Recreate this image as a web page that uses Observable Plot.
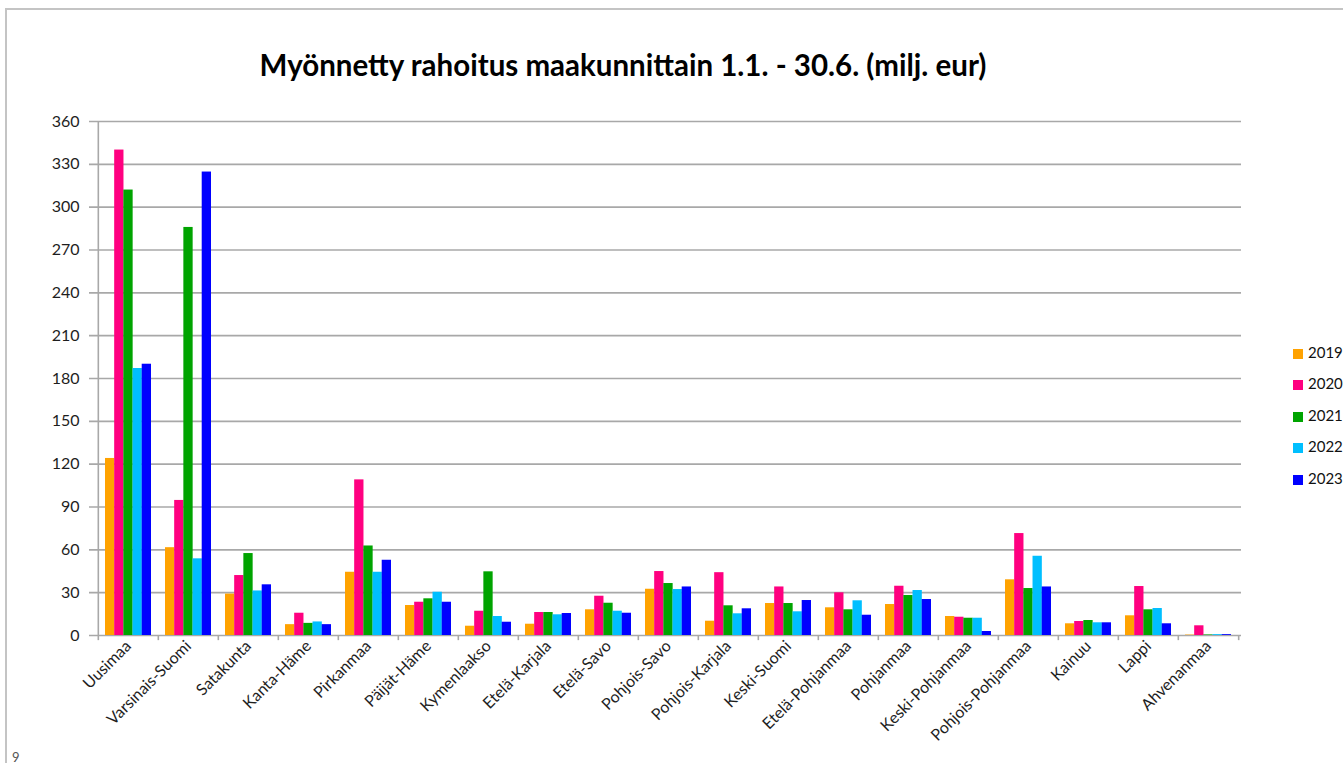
<!DOCTYPE html>
<html>
<head>
<meta charset="utf-8">
<script src="https://cdn.jsdelivr.net/npm/d3@7"></script>
<script src="https://cdn.jsdelivr.net/npm/@observablehq/plot@0.6"></script>
<style>
  html, body { margin: 0; padding: 0; background: #fff; }
  body { width: 1343px; height: 763px; overflow: hidden; position: relative; font-family: Lato, "Open Sans", sans-serif; }
  #frame { position: absolute; left: 5px; top: 8px; width: 1400px; height: 800px; border-left: 2px solid #c4c4c4; border-top: 2px solid #c4c4c4; }
  #title { position: absolute; left: 0; top: 47px; width: 1246px; text-align: center; font-weight: bold; font-size: 29.5px; color: #000; }
  #chart { position: absolute; left: 0; top: 100px; }
  #chart svg text { fill: #1e1e1e; }
  .leg { position: absolute; left: 1293px; font-size: 15px; color: #111; white-space: nowrap; }
  .leg span.sw { display: inline-block; width: 10px; height: 10px; margin-right: 5px; vertical-align: -1px; }
  #pg { position: absolute; left: 12px; top: 749px; font-size: 13px; color: #555; }
</style>
</head>
<body>
<div id="frame"></div>
<div id="title">Myönnetty rahoitus maakunnittain 1.1. - 30.6. (milj. eur)</div>
<div id="chart"></div>
<div id="legend"></div>
<div id="pg">9</div>
<script>
const regions = ["Uusimaa","Varsinais-Suomi","Satakunta","Kanta-Häme","Pirkanmaa","Päijät-Häme","Kymenlaakso","Etelä-Karjala","Etelä-Savo","Pohjois-Savo","Pohjois-Karjala","Keski-Suomi","Etelä-Pohjanmaa","Pohjanmaa","Keski-Pohjanmaa","Pohjois-Pohjanmaa","Kainuu","Lappi","Ahvenanmaa"];
const years = ["2019","2020","2021","2022","2023"];
const colors = ["#ffa200","#ff0080","#00a400","#00bfff","#0000ff"];
const v2019 = [124, 61.5, 29, 7.6, 44.3, 21, 6.5, 7.9, 18, 32.4, 10, 22.4, 19.4, 21.7, 13.3, 39, 8.2, 13.8, 0.3];
const v2020 = [340, 94.6, 42, 15.6, 109, 23.3, 17, 16.1, 27.5, 44.8, 44, 34, 29.9, 34.5, 12.8, 71.4, 9.8, 34.3, 6.8];
const v2021 = [312, 285.8, 57.4, 8.5, 62.7, 25.7, 44.6, 16.1, 22.6, 36.4, 20.8, 22.4, 18, 28, 12.1, 32.9, 10.5, 18, 0.4];
const v2022 = [187, 53.7, 31.2, 9.5, 44.3, 30.3, 13.3, 14.5, 17, 32.2, 15.2, 16.6, 24.3, 31.5, 12.1, 55.5, 8.9, 18.9, 0.6];
const v2023 = [190, 324.6, 35.5, 7.6, 52.7, 23.3, 9.3, 15.4, 15.6, 34, 18.7, 24.5, 14.2, 25.2, 2.8, 34, 8.9, 8.2, 0.6];
const yTicks = [0,30,60,90,120,150,180,210,240,270,300,330,360];

const series = [v2019, v2020, v2021, v2022, v2023];
const rows = [];
years.forEach((yr, i) => regions.forEach((r, j) => rows.push({region: r, year: yr, value: series[i][j]})));

const W = 1343, mL = 94, mR = 102, mT = 21, mB = 128, H = 663;
const pad = 0.24;
const step = (W - mL - mR) / regions.length;
const bar = step * (1 - pad) / years.length;
const grid = "#a8a8a8";

const chart = Plot.plot({
  width: W, height: H,
  marginLeft: mL, marginRight: mR, marginTop: mT, marginBottom: mB,
  style: {fontFamily: "Lato, 'Open Sans', sans-serif", fontSize: "16px", color: "#222", background: "transparent"},
  x: {domain: regions, paddingInner: pad, paddingOuter: pad / 2, tickRotate: -45, tickSize: 0, tickPadding: 8, label: null},
  y: {domain: [0, 360], ticks: yTicks, tickSize: 0, tickPadding: 15, label: null},
  color: {domain: years, range: colors},
  marks: [
    Plot.ruleY(yTicks, {stroke: grid, strokeWidth: 1.6, insetLeft: -5}),
    ...years.map((yr, i) => Plot.barY(rows.filter(d => d.year === yr), {
      x: "region", y: "value", fill: "year",
      insetLeft: i * bar, insetRight: (years.length - 1 - i) * bar
    })),
    Plot.ruleX(regions, {x: d => d, dx: -step / 2, y1: 0, y2: -3.6, stroke: grid, strokeWidth: 1.6}),
    Plot.ruleX([regions[regions.length - 1]], {x: d => d, dx: step / 2, y1: 0, y2: -3.6, stroke: grid, strokeWidth: 1.6}),
    Plot.ruleX([regions[0]], {x: d => d, dx: -step / 2, y1: 0, y2: 360, stroke: grid, strokeWidth: 1.6})
  ]
});
document.getElementById("chart").appendChild(chart);

const leg = document.getElementById("legend");
years.forEach((yr, i) => {
  const d = document.createElement("div");
  d.className = "leg";
  d.style.top = (343 + i * 31.4) + "px";
  d.innerHTML = `<span class="sw" style="background:${colors[i]}"></span>${yr}`;
  leg.appendChild(d);
});
</script>
</body>
</html>
